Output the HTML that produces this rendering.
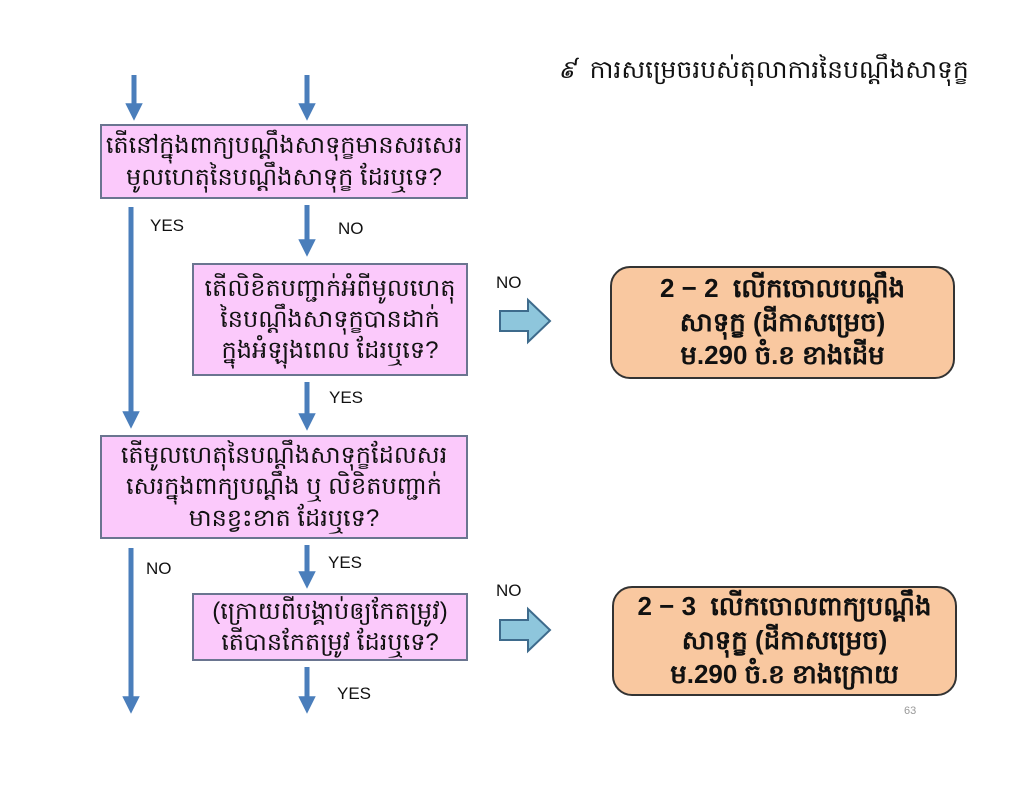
<!DOCTYPE html>
<html><head><meta charset="utf-8"><style>
body{margin:0;width:1024px;height:791px;background:#fff;position:relative;overflow:hidden;font-family:"Liberation Sans","Noto Sans CJK SC",sans-serif;}
.b{position:absolute;background:#fbc9fb;border:2px solid #6a7590;box-sizing:border-box;display:flex;align-items:center;justify-content:center;text-align:center;font-size:24px;line-height:1.3;color:#111;}
.o{position:absolute;background:#f9c8a0;border:2px solid #333;border-radius:20px;box-sizing:border-box;display:flex;align-items:center;justify-content:center;text-align:center;font-size:26px;font-weight:bold;line-height:1.3;color:#111;}
.l{position:absolute;font-size:17px;color:#111;}
svg{position:absolute;left:0;top:0;}
</style></head><body>
<svg width="1024" height="791">
<defs><marker id="a" viewBox="0 0 10 10" refX="5" refY="5" markerWidth="4" markerHeight="3.5" orient="auto"><path d="M0,0L10,5L0,10z" fill="#4a7ebb"/></marker></defs>
<g stroke="#4a7ebb" stroke-width="5">
<line x1="134" y1="75" x2="134" y2="112" marker-end="url(#a)"/>
<line x1="307" y1="75" x2="307" y2="112" marker-end="url(#a)"/>
<line x1="131" y1="207" x2="131" y2="420" marker-end="url(#a)"/>
<line x1="307" y1="205" x2="307" y2="248" marker-end="url(#a)"/>
<line x1="307" y1="382" x2="307" y2="422" marker-end="url(#a)"/>
<line x1="131" y1="548" x2="131" y2="705" marker-end="url(#a)"/>
<line x1="307" y1="545" x2="307" y2="580" marker-end="url(#a)"/>
<line x1="307" y1="667" x2="307" y2="705" marker-end="url(#a)"/>
</g>
<path d="M500,311H528V300L550,321L528,342V331H500Z" fill="#8ec6dc" stroke="#3e6b8c" stroke-width="2"/>
<path d="M500,620H528V609L550,630L528,651V640H500Z" fill="#8ec6dc" stroke="#3e6b8c" stroke-width="2"/>
</svg>
<div class="b" style="left:100px;top:124px;width:368px;height:75px">តើនៅក្នុងពាក្យបណ្តឹងសាទុក្ខមានសរសេរ<br>មូលហេតុនៃបណ្តឹងសាទុក្ខ ដែរឬទេ?</div>
<div class="b" style="left:192px;top:263px;width:276px;height:113px">តើលិខិតបញ្ជាក់អំពីមូលហេតុ<br>នៃបណ្តឹងសាទុក្ខបានដាក់<br>ក្នុងអំឡុងពេល ដែរឬទេ?</div>
<div class="b" style="left:100px;top:435px;width:368px;height:104px">តើមូលហេតុនៃបណ្តឹងសាទុក្ខដែលសរ<br>សេរក្នុងពាក្យបណ្តឹង ឬ លិខិតបញ្ជាក់<br>មានខ្វះខាត ដែរឬទេ?</div>
<div class="b" style="left:192px;top:593px;width:276px;height:68px">(ក្រោយពីបង្គាប់ឲ្យកែតម្រូវ)<br>តើបានកែតម្រូវ ដែរឬទេ?</div>
<div class="o" style="left:610px;top:266px;width:345px;height:113px">2 − 2&nbsp; លើកចោលបណ្តឹង<br>សាទុក្ខ (ដីកាសម្រេច)<br>ម.290 ចំ.ខ ខាងដើម</div>
<div class="o" style="left:612px;top:586px;width:345px;height:110px">2 − 3&nbsp; លើកចោលពាក្យបណ្តឹង<br>សាទុក្ខ (ដីកាសម្រេច)<br>ម.290 ចំ.ខ ខាងក្រោយ</div>
<div class="l" style="left:150px;top:216px">YES</div>
<div class="l" style="left:338px;top:219px">NO</div>
<div class="l" style="left:496px;top:273px">NO</div>
<div class="l" style="left:329px;top:388px">YES</div>
<div class="l" style="left:146px;top:559px">NO</div>
<div class="l" style="left:328px;top:553px">YES</div>
<div class="l" style="left:496px;top:581px">NO</div>
<div class="l" style="left:337px;top:684px">YES</div>
<div class="l" style="left:904px;top:705px;font-size:11px;color:#999">63</div>
<div style="position:absolute;left:558px;top:55px;font-size:25px;color:#111;white-space:nowrap"><i>៩</i>&nbsp; ការសម្រេចរបស់តុលាការនៃបណ្តឹងសាទុក្ខ</div>
</body></html>
